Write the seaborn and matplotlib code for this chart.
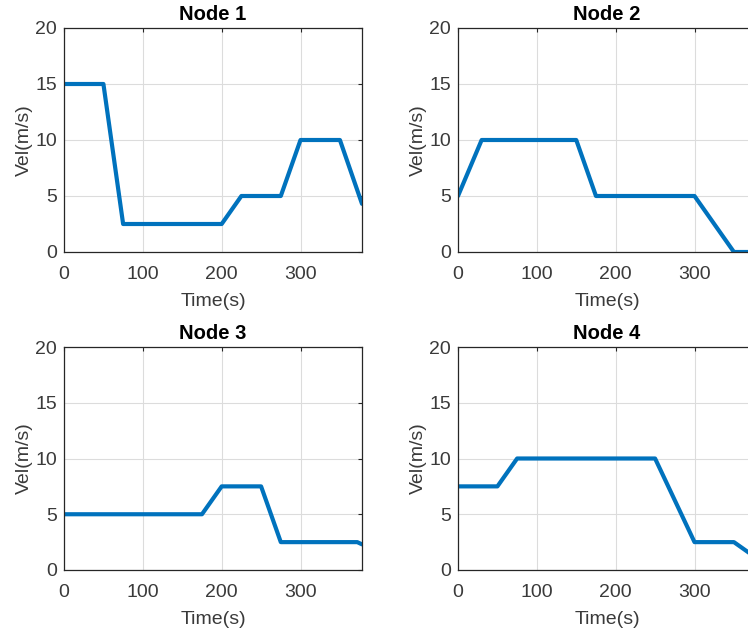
import matplotlib
matplotlib.use("Agg")
import matplotlib.pyplot as plt
import seaborn as sns
import pandas as pd

# ---- data ----
node_titles = ["Node 1", "Node 2", "Node 3", "Node 4"]

node1_t = [0, 50, 75, 200, 225, 275, 300, 350, 378]
node1_v = [15, 15, 2.5, 2.5, 5, 5, 10, 10, 4.3]

node2_t = [0, 30, 150, 175, 300, 350, 378]
node2_v = [5, 10, 10, 5, 5, 0, 0]

node3_t = [0, 175, 200, 250, 275, 372, 378]
node3_v = [5, 5, 7.5, 7.5, 2.5, 2.5, 2.3]

node4_t = [0, 50, 75, 250, 300, 350, 378]
node4_v = [7.5, 7.5, 10, 10, 2.5, 2.5, 1.1]

x_ticks = [0, 100, 200, 300]
y_ticks = [0, 5, 10, 15, 20]
x_label = "Time(s)"
y_label = "Vel(m/s)"

# ---- style ----
sns.set_style("white")
plt.rcParams["font.family"] = ["Liberation Sans", "DejaVu Sans"]
plt.rcParams["font.size"] = 14

W, H = 748, 637
fig = plt.figure(figsize=(W / 100, H / 100), dpi=100)

line_color = "#0072BD"
axis_color = "#262626"
text_color = "#3a3a3a"

# axes rectangles in pixel units (left, top, right, bottom)
rects = [
    (64, 28, 362, 252),
    (458, 28, 756, 252),
    (64, 347, 362, 570),
    (458, 347, 756, 570),
]

series = [(node1_t, node1_v), (node2_t, node2_v), (node3_t, node3_v), (node4_t, node4_v)]

for (l, t, r, b), (ts, vs), title in zip(rects, series, node_titles):
    ax = fig.add_axes([l / W, 1 - b / H, (r - l) / W, (b - t) / H])
    df = pd.DataFrame({"t": ts, "v": vs})
    sns.lineplot(data=df, x="t", y="v", ax=ax, color=line_color, linewidth=3.0,
                 estimator=None, sort=False)
    ax.set_xlim(0, 378)
    ax.set_ylim(0, 20)
    ax.set_xticks(x_ticks)
    ax.set_yticks(y_ticks)
    ax.grid(True, color="#dcdcdc", linewidth=0.8)
    ax.set_axisbelow(True)
    for s in ax.spines.values():
        s.set_visible(True)
        s.set_color(axis_color)
        s.set_linewidth(0.9)
    ax.tick_params(axis="both", direction="in", length=3, width=0.8,
                   colors=axis_color, labelcolor=text_color,
                   top=True, right=True, labelsize=14)
    ax.tick_params(axis="x", pad=10)
    ax.tick_params(axis="y", pad=5)
    ax.set_xlabel(x_label, fontsize=14, color=text_color, labelpad=7)
    ax.set_ylabel(y_label, fontsize=14, color=text_color, labelpad=2)
    ax.set_title(title, fontsize=14.5, fontweight="bold", color="black", pad=6)

fig.savefig("out.png", dpi=100)
